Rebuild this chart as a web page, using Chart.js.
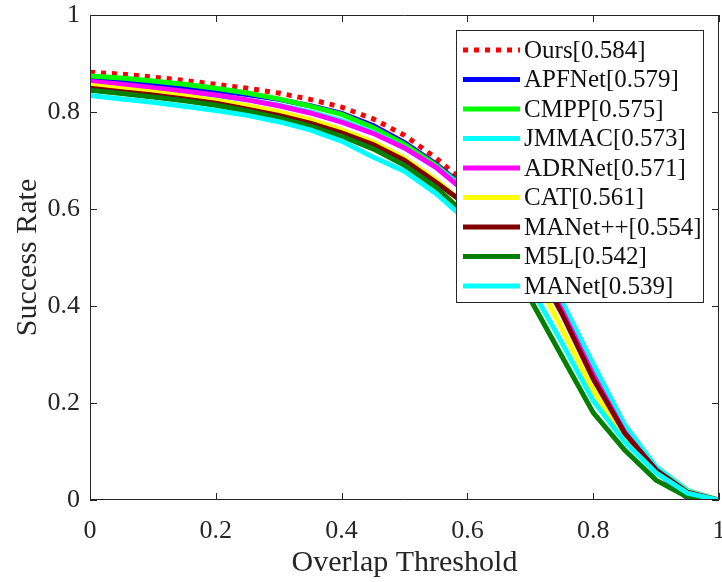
<!DOCTYPE html>
<html>
<head>
<meta charset="utf-8">
<script src="https://cdn.jsdelivr.net/npm/chart.js@4.4.1/dist/chart.umd.min.js"></script>
<style>
  html, body { margin: 0; padding: 0; background: #fff; }
  #wrap { width: 722px; height: 582px; }
</style>
</head>
<body>
<div id="wrap"><canvas id="success"></canvas></div>
<script>
// overlap thresholds (x) and success rate per tracker
const thresholds = [0, 0.05, 0.1, 0.15, 0.2, 0.25, 0.3, 0.35, 0.4, 0.45, 0.5,
  0.55, 0.6, 0.65, 0.7, 0.75, 0.8, 0.85, 0.9, 0.95, 1];

const names = ['Ours[0.584]', 'APFNet[0.579]', 'CMPP[0.575]', 'JMMAC[0.573]', 'ADRNet[0.571]',
  'CAT[0.561]', 'MANet++[0.554]', 'M5L[0.542]', 'MANet[0.539]'];

const ours    = [0.882, 0.878, 0.872, 0.865, 0.857, 0.849, 0.839, 0.826, 0.810, 0.786, 0.752, 0.705, 0.650, 0.590, 0.525, 0.400, 0.262, 0.142, 0.062, 0.015, 0];
const apfnet  = [0.867, 0.862, 0.857, 0.851, 0.844, 0.836, 0.826, 0.813, 0.797, 0.772, 0.737, 0.693, 0.640, 0.580, 0.518, 0.395, 0.260, 0.140, 0.064, 0.014, 0];
const cmpp    = [0.874, 0.870, 0.864, 0.857, 0.849, 0.839, 0.827, 0.812, 0.795, 0.768, 0.733, 0.690, 0.638, 0.578, 0.515, 0.392, 0.258, 0.140, 0.062, 0.012, 0];
const jmmac   = [0.860, 0.855, 0.849, 0.842, 0.834, 0.825, 0.814, 0.800, 0.782, 0.758, 0.726, 0.686, 0.638, 0.590, 0.540, 0.410, 0.280, 0.155, 0.068, 0.020, 0];
const adrnet  = [0.863, 0.857, 0.850, 0.843, 0.835, 0.825, 0.813, 0.798, 0.779, 0.756, 0.726, 0.686, 0.632, 0.575, 0.515, 0.392, 0.258, 0.140, 0.060, 0.003, 0];
const cat     = [0.855, 0.848, 0.841, 0.833, 0.824, 0.813, 0.800, 0.784, 0.763, 0.738, 0.705, 0.660, 0.605, 0.545, 0.480, 0.354, 0.226, 0.130, 0.060, 0.017, 0];
const manetpp = [0.849, 0.842, 0.835, 0.827, 0.818, 0.806, 0.793, 0.777, 0.757, 0.733, 0.700, 0.655, 0.607, 0.557, 0.505, 0.385, 0.250, 0.138, 0.062, 0.016, 0];
const m5l     = [0.845, 0.838, 0.831, 0.823, 0.814, 0.802, 0.788, 0.771, 0.750, 0.724, 0.690, 0.645, 0.585, 0.505, 0.414, 0.297, 0.180, 0.103, 0.041, 0.006, 0];
const manet   = [0.834, 0.827, 0.820, 0.812, 0.803, 0.793, 0.780, 0.763, 0.740, 0.707, 0.678, 0.632, 0.575, 0.515, 0.440, 0.325, 0.205, 0.120, 0.056, 0.014, 0];

const series = [ours, apfnet, cmpp, jmmac, adrnet, cat, manetpp, m5l, manet];
const colors = ['#ff0000', '#0000ff', '#00ff00', '#00ffff', '#ff00ff', '#ffff00', '#800000', '#008000', '#00ffff'];

const serif = "'Liberation Serif', 'Times New Roman', serif";
const ink = '#262626';

// later entries are plotted over earlier ones, like in the original figure
const datasets = series.map((vals, i) => ({
  label: names[i],
  data: vals.map((v, j) => ({ x: thresholds[j], y: v })),
  borderColor: colors[i],
  backgroundColor: colors[i],
  borderWidth: 5,
  borderDash: i === 0 ? [5, 6] : [],
  borderCapStyle: 'butt',
  pointRadius: 0,
  tension: 0,
  fill: false,
  order: series.length - i
}));

// box around the axes with inward ticks, matlab style
const boxTicks = {
  id: 'boxTicks',
  afterDatasetsDraw(chart) {
    const { ctx, chartArea: a, scales } = chart;
    const len = 7;
    ctx.save();
    ctx.strokeStyle = ink;
    ctx.lineWidth = 1;
    ctx.beginPath();
    ctx.rect(a.left + 0.5, a.top + 0.5, a.right - a.left - 1, a.bottom - a.top - 1);
    scales.x.ticks.forEach(t => {
      const px = Math.round(scales.x.getPixelForValue(t.value)) + 0.5;
      ctx.moveTo(px, a.bottom); ctx.lineTo(px, a.bottom - len);
      ctx.moveTo(px, a.top); ctx.lineTo(px, a.top + len);
    });
    scales.y.ticks.forEach(t => {
      const py = Math.round(scales.y.getPixelForValue(t.value)) + 0.5;
      ctx.moveTo(a.left, py); ctx.lineTo(a.left + len, py);
      ctx.moveTo(a.right, py); ctx.lineTo(a.right - len, py);
    });
    ctx.stroke();
    ctx.restore();
  }
};

// legend box inside the plot, top right
const boxLegend = {
  id: 'boxLegend',
  afterDraw(chart) {
    const { ctx, chartArea: a } = chart;
    const x0 = a.right - 263, y0 = a.top + 15, w = 247, h = 272;
    ctx.save();
    ctx.fillStyle = '#fff';
    ctx.fillRect(x0, y0, w, h);
    ctx.strokeStyle = ink;
    ctx.lineWidth = 1;
    ctx.strokeRect(x0 + 0.5, y0 + 0.5, w, h);
    ctx.font = '25px ' + serif;
    ctx.textBaseline = 'middle';
    chart.data.datasets.forEach((ds, i) => {
      const cy = y0 + 20 + i * 29.5;
      ctx.beginPath();
      ctx.strokeStyle = ds.borderColor;
      ctx.lineWidth = ds.borderWidth;
      ctx.setLineDash(ds.borderDash);
      ctx.moveTo(x0 + 7, cy);
      ctx.lineTo(x0 + 64, cy);
      ctx.stroke();
      ctx.setLineDash([]);
      ctx.fillStyle = '#111';
      ctx.fillText(ds.label, x0 + 68, cy + 1);
    });
    ctx.restore();
  }
};

const tickFmt = v => (Math.round(v * 10) / 10).toString();

new Chart(document.getElementById('success'), {
  type: 'line',
  data: { datasets },
  options: {
    responsive: true,
    maintainAspectRatio: false,
    animation: false,
    layout: { padding: { left: 0, right: 3, top: 15, bottom: 0 } },
    plugins: { legend: { display: false }, tooltip: { enabled: false } },
    scales: {
      x: {
        type: 'linear', min: 0, max: 1,
        grid: { display: false, drawTicks: false },
        border: { display: false },
        ticks: { stepSize: 0.2, padding: 16, color: ink, font: { family: serif, size: 26 }, callback: tickFmt, maxRotation: 0 },
        title: { display: true, text: 'Overlap Threshold', color: ink, font: { family: serif, size: 30 }, padding: { top: 0, bottom: 1 } },
        afterFit(s) { s.height = 82; s.paddingLeft = 0; s.paddingRight = 0; }
      },
      y: {
        type: 'linear', min: 0, max: 1,
        grid: { display: false, drawTicks: false },
        border: { display: false },
        ticks: { stepSize: 0.2, padding: 10, color: ink, font: { family: serif, size: 26 }, callback: tickFmt },
        title: { display: true, text: 'Success Rate', color: ink, font: { family: serif, size: 30 }, padding: { top: 10, bottom: 0 } },
        afterFit(s) { s.width = 90; s.paddingTop = 0; s.paddingBottom = 0; }
      }
    }
  },
  plugins: [boxTicks, boxLegend]
});
</script>
</body>
</html>
